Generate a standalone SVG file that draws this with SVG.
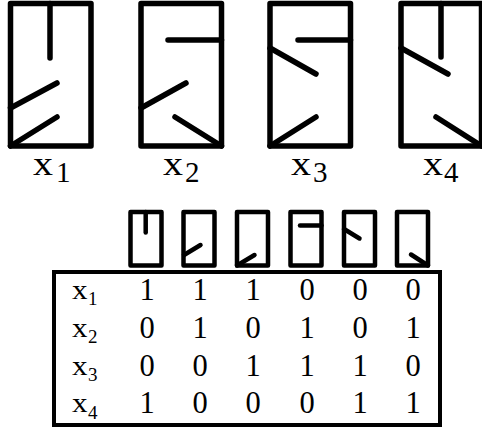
<svg xmlns="http://www.w3.org/2000/svg" width="482" height="429" viewBox="0 0 482 429">
<style>
.big{fill:none;stroke:#000;stroke-width:5.5;stroke-linecap:round;stroke-linejoin:round}
.ico{fill:none;stroke:#000;stroke-width:4.5;stroke-linecap:round;stroke-linejoin:round}
.tab{fill:none;stroke:#000;stroke-width:4}
.t{font-family:"Liberation Serif","Times New Roman",serif;fill:#000}
.bl{font-size:33px}
.bs{font-size:29px}
.tl{font-size:28px}
.ts{font-size:19px}
.td{font-size:30.5px;text-anchor:middle}
</style>
<rect width="482" height="429" fill="#fff"/>
<g id="x1">
<rect class="big" x="10.5" y="3.5" width="80.5" height="142.5"/>
<path class="big" d="M50 3.5V58M10.5 108L57 83M10.5 146L57 117"/>
<text class="t bl" x="33" y="175" textLength="20" lengthAdjust="spacingAndGlyphs">x</text>
<text class="t bs" x="56" y="182">1</text>
</g>
<g id="x2">
<rect class="big" x="141" y="3.5" width="80.5" height="142.5"/>
<path class="big" d="M168 40H221.5M141 108L186 83M175 117L221.5 146"/>
<text class="t bl" x="163" y="175" textLength="20" lengthAdjust="spacingAndGlyphs">x</text>
<text class="t bs" x="185" y="182">2</text>
</g>
<g id="x3">
<rect class="big" x="270" y="3.5" width="80.5" height="142.5"/>
<path class="big" d="M298 40H350.5M270 48L316 74M270 146L316 117"/>
<text class="t bl" x="291" y="175" textLength="20" lengthAdjust="spacingAndGlyphs">x</text>
<text class="t bs" x="313" y="182">3</text>
</g>
<g id="x4">
<rect class="big" x="401" y="3.5" width="80.5" height="142.5"/>
<path class="big" d="M441 3.5V57M401 48L448 74M436 117L481.5 146"/>
<text class="t bl" x="423" y="175" textLength="20" lengthAdjust="spacingAndGlyphs">x</text>
<text class="t bs" x="444" y="182">4</text>
</g>
<g id="icon1">
<rect class="ico" x="130.5" y="212" width="31" height="53.5"/>
<path class="ico" d="M145.7 212V232.5"/>
</g>
<g id="icon2">
<rect class="ico" x="183.5" y="212" width="31" height="53.5"/>
<path class="ico" d="M184 255L200.5 245"/>
</g>
<g id="icon3">
<rect class="ico" x="237" y="212" width="31" height="53.5"/>
<path class="ico" d="M237 265.5L254.5 255"/>
</g>
<g id="icon4">
<rect class="ico" x="290.5" y="212" width="31" height="53.5"/>
<path class="ico" d="M300 225.5H321.5"/>
</g>
<g id="icon5">
<rect class="ico" x="344" y="212" width="31" height="53.5"/>
<path class="ico" d="M344 229L359.5 238.5"/>
</g>
<g id="icon6">
<rect class="ico" x="397" y="212" width="31" height="53.5"/>
<path class="ico" d="M411 254.5L428 265.5"/>
</g>
<g id="table">
<rect class="tab" x="54" y="272" width="386" height="153"/>
<g class="t">
<text class="tl" x="72" y="299" textLength="15.5" lengthAdjust="spacingAndGlyphs">x</text><text class="ts" x="88" y="305">1</text>
<text class="tl" x="72" y="337" textLength="15.5" lengthAdjust="spacingAndGlyphs">x</text><text class="ts" x="88" y="343">2</text>
<text class="tl" x="72" y="374.5" textLength="15.5" lengthAdjust="spacingAndGlyphs">x</text><text class="ts" x="88" y="381">3</text>
<text class="tl" x="72" y="412" textLength="15.5" lengthAdjust="spacingAndGlyphs">x</text><text class="ts" x="88" y="418.5">4</text>
</g>
<g class="t td">
<text y="300"><tspan x="147">1</tspan><tspan x="200">1</tspan><tspan x="253">1</tspan><tspan x="307">0</tspan><tspan x="360">0</tspan><tspan x="413">0</tspan></text>
<text y="338"><tspan x="147">0</tspan><tspan x="200">1</tspan><tspan x="253">0</tspan><tspan x="307">1</tspan><tspan x="360">0</tspan><tspan x="413">1</tspan></text>
<text y="375.5"><tspan x="147">0</tspan><tspan x="200">0</tspan><tspan x="253">1</tspan><tspan x="307">1</tspan><tspan x="360">1</tspan><tspan x="413">0</tspan></text>
<text y="413"><tspan x="147">1</tspan><tspan x="200">0</tspan><tspan x="253">0</tspan><tspan x="307">0</tspan><tspan x="360">1</tspan><tspan x="413">1</tspan></text>
</g>
</g>
</svg>
